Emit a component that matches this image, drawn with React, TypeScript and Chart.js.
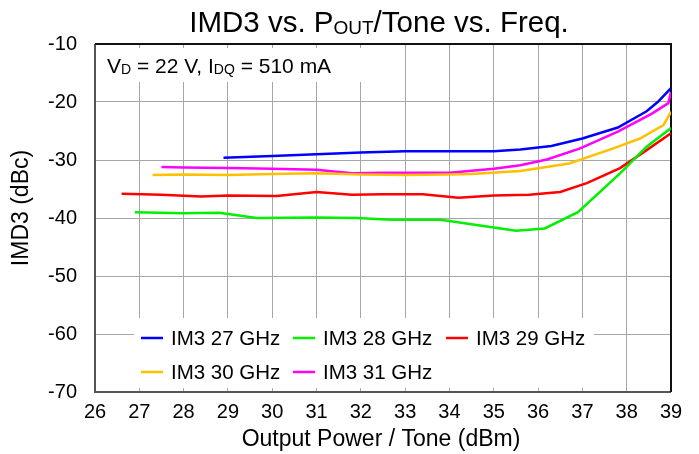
import React, { useEffect, useRef } from "react";
import { Chart, registerables } from "chart.js";

Chart.register(...registerables);

const FONT = "'Liberation Sans', Arial, Helvetica, sans-serif";

// Axis ranges
const xMin = 26;
const xMax = 39;
const yMin = -70;
const yMax = -10;

// Series names & colors
const seriesNames = ["IM3 27 GHz", "IM3 28 GHz", "IM3 29 GHz", "IM3 30 GHz", "IM3 31 GHz"];
const seriesColors = ["#0000ff", "#00f000", "#ff0000", "#ffc000", "#ff00ff"];

// IM3 27 GHz
const pout27 = [28.9, 30, 31, 32, 33, 34, 35, 35.6, 36.3, 37, 37.8, 38.45, 38.7, 39];
const imd27 = [-29.6, -29.3, -29.0, -28.7, -28.5, -28.5, -28.5, -28.2, -27.6, -26.3, -24.4, -21.6, -20.0, -17.6];

// IM3 28 GHz
const pout28 = [26.9, 28, 28.8, 29.65, 31, 31.9, 32.7, 33.8, 35.5, 36.15, 36.9, 37.85, 38.45, 39];
const imd28 = [-39.0, -39.2, -39.1, -40.0, -39.9, -40.0, -40.3, -40.3, -42.2, -41.8, -39.0, -32.3, -27.7, -24.5];

// IM3 29 GHz
const pout29 = [26.6, 27.5, 28.4, 29, 30.1, 31, 31.8, 32.5, 33.4, 34.2, 35, 35.8, 36.5, 37.1, 37.85, 38.45, 39];
const imd29 = [-35.8, -36.0, -36.3, -36.1, -36.2, -35.5, -36.0, -35.9, -35.9, -36.5, -36.1, -36.0, -35.5, -34.0, -31.4, -28.3, -25.4];

// IM3 30 GHz
const pout30 = [27.3, 28, 29, 30, 31, 32, 33, 34, 34.5, 35.6, 36.7, 37.7, 38.3, 38.83, 39];
const imd30 = [-32.6, -32.5, -32.6, -32.4, -32.3, -32.5, -32.6, -32.5, -32.4, -31.9, -30.6, -28.0, -26.3, -24.0, -21.7];

// IM3 31 GHz
const pout31 = [27.5, 28, 29, 30, 31, 31.8, 32.5, 33, 34, 35, 35.6, 36.2, 36.95, 37.8, 38.57, 38.94, 39];
const imd31 = [-31.2, -31.3, -31.4, -31.5, -31.7, -32.3, -32.2, -32.2, -32.2, -31.5, -30.9, -29.9, -28.0, -25.1, -22.0, -20.2, -18.3];

const seriesX = [pout27, pout28, pout29, pout30, pout31];
const seriesY = [imd27, imd28, imd29, imd30, imd31];

type Part = { t: string; sub?: boolean };

function drawRich(
  ctx: CanvasRenderingContext2D,
  parts: Part[],
  x: number,
  y: number,
  size: number,
  subSize: number,
  subOffset: number,
  align: "left" | "center"
) {
  const widths = parts.map((p) => {
    ctx.font = `${p.sub ? subSize : size}px ${FONT}`;
    return ctx.measureText(p.t).width;
  });
  const total = widths.reduce((a, b) => a + b, 0);
  let cx = align === "center" ? x - total / 2 : x;
  ctx.textAlign = "left";
  ctx.textBaseline = "alphabetic";
  parts.forEach((p, i) => {
    ctx.font = `${p.sub ? subSize : size}px ${FONT}`;
    ctx.fillText(p.t, cx, p.sub ? y + subOffset : y);
    cx += widths[i];
  });
}

const decorPlugin = {
  id: "decor",
  beforeDatasetsDraw(chart: any) {
    const { ctx, chartArea } = chart;
    const { left, right, top, bottom } = chartArea;
    ctx.save();
    // annotation background box
    ctx.fillStyle = "#ffffff";
    ctx.fillRect(left + 1, 48, 275, 34);
    ctx.lineWidth = 2;
    ctx.strokeStyle = "#555555";
    ctx.beginPath();
    ctx.moveTo(left, top);
    ctx.lineTo(left, bottom);
    ctx.lineTo(right, bottom);
    ctx.stroke();
    ctx.strokeStyle = "#111111";
    ctx.beginPath();
    ctx.moveTo(left, top);
    ctx.lineTo(right, top);
    ctx.lineTo(right, bottom);
    ctx.stroke();
    ctx.restore();
  },
  afterDatasetsDraw(chart: any) {
    const { ctx } = chart;
    ctx.save();
    // legend box
    ctx.fillStyle = "#ffffff";
    ctx.fillRect(134, 318, 460, 70);
    const items = [
      { lx: 141, tx: 171, y: 338 },
      { lx: 293, tx: 323, y: 338 },
      { lx: 446, tx: 476, y: 338 },
      { lx: 141, tx: 171, y: 372 },
      { lx: 293, tx: 323, y: 372 },
    ];
    items.forEach((it, i) => {
      ctx.strokeStyle = seriesColors[i];
      ctx.lineWidth = 2.5;
      ctx.beginPath();
      ctx.moveTo(it.lx, it.y);
      ctx.lineTo(it.lx + 22, it.y);
      ctx.stroke();
      ctx.fillStyle = "#000000";
      ctx.font = `20.5px ${FONT}`;
      ctx.textAlign = "left";
      ctx.textBaseline = "middle";
      ctx.fillText(seriesNames[i], it.tx, it.y + 1);
    });

    // annotation
    ctx.fillStyle = "#000000";
    drawRich(
      ctx,
      [
        { t: "V" },
        { t: "D", sub: true },
        { t: " = 22 V, I" },
        { t: "DQ", sub: true },
        { t: " = 510 mA" },
      ],
      107,
      73,
      21,
      14,
      1,
      "left"
    );

    // title
    drawRich(
      ctx,
      [{ t: "IMD3 vs. P" }, { t: "OUT", sub: true }, { t: "/Tone vs. Freq." }],
      379,
      32,
      29.5,
      19,
      2,
      "center"
    );

    // x axis title
    ctx.font = `23px ${FONT}`;
    ctx.textAlign = "center";
    ctx.textBaseline = "middle";
    ctx.fillText("Output Power / Tone (dBm)", 381, 440);

    // y axis title
    ctx.translate(22, 208);
    ctx.rotate(-Math.PI / 2);
    ctx.fillText("IMD3 (dBc)", 0, 0);
    ctx.restore();
  },
};

export default function App() {
  const ref = useRef<HTMLCanvasElement | null>(null);
  useEffect(() => {
    if (!ref.current) return;
    const datasets = seriesNames.map((name, i) => ({
      label: name,
      data: seriesX[i].map((x, j) => ({ x, y: seriesY[i][j] })),
      borderColor: seriesColors[i],
      backgroundColor: seriesColors[i],
      borderWidth: 2.5,
      pointRadius: 0,
      tension: 0,
      fill: false,
    }));
    const chart = new Chart(ref.current, {
      type: "line",
      data: { datasets },
      options: {
        animation: false,
        responsive: false,
        devicePixelRatio: 1,
        layout: { padding: { left: 0, top: 44, right: 28, bottom: 0 } },
        plugins: {
          legend: { display: false },
          title: { display: false },
          tooltip: { enabled: false },
        },
        scales: {
          x: {
            type: "linear",
            min: xMin,
            max: xMax,
            afterFit: (s: any) => {
              s.height = 62;
            },
            ticks: {
              stepSize: 1,
              color: "#000000",
              font: { family: FONT, size: 20 },
              padding: 8,
              maxRotation: 0,
            },
            grid: { color: "#a6a6a6", lineWidth: 1, drawTicks: false },
            border: { display: false },
          },
          y: {
            type: "linear",
            min: yMin,
            max: yMax,
            afterFit: (s: any) => {
              s.width = 95;
            },
            ticks: {
              stepSize: 10,
              color: "#000000",
              font: { family: FONT, size: 20 },
              padding: 18,
            },
            grid: { color: "#a6a6a6", lineWidth: 1, drawTicks: false },
            border: { display: false },
          },
        },
      },
      plugins: [decorPlugin],
    });
    return () => chart.destroy();
  }, []);
  return (
    <div style={{ position: "absolute", left: 0, top: 0, width: 699, height: 454, background: "#fff" }}>
      <canvas ref={ref} width={699} height={454} style={{ width: 699, height: 454, display: "block" }} />
    </div>
  );
}
